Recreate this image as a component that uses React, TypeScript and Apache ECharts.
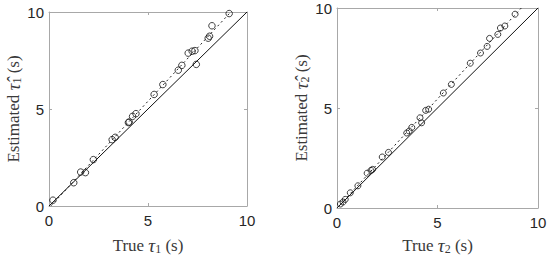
import React, { useEffect, useRef } from "react";
import * as echarts from "echarts";

// Left panel: tau1 (true, estimated)
const tau1True = [0.2, 1.25, 1.6, 1.84, 2.24, 3.19, 3.34, 4.01, 4.05, 4.22, 4.39, 5.31, 5.75, 6.53, 6.71, 7.03, 7.23, 7.37, 7.44, 8.04, 8.11, 8.23, 9.1];
const tau1Est = [0.3, 1.2, 1.75, 1.72, 2.39, 3.42, 3.54, 4.3, 4.33, 4.62, 4.76, 5.75, 6.26, 7.0, 7.25, 7.88, 7.98, 8.01, 7.3, 8.65, 8.75, 9.29, 9.92];
const fit1X = [0.1, 9.18];
const fit1Y = [0.01, 10.0];

// Right panel: tau2 (true, estimated)
const tau2True = [0.17, 0.3, 0.41, 0.66, 1.04, 1.5, 1.69, 1.77, 2.25, 2.56, 3.47, 3.59, 3.72, 4.13, 4.21, 4.41, 4.56, 5.29, 5.69, 6.63, 7.14, 7.47, 7.59, 8.0, 8.13, 8.35, 8.86];
const tau2Est = [0.2, 0.3, 0.43, 0.76, 1.11, 1.74, 1.88, 1.93, 2.55, 2.78, 3.75, 3.85, 4.03, 4.51, 4.26, 4.88, 4.94, 5.75, 6.18, 7.24, 7.75, 8.08, 8.48, 8.68, 9.0, 9.1, 9.69];
const fit2X = [0, 9.17];
const fit2Y = [0, 10.0];

const identityX = [0, 10];
const identityY = [0, 10];

const axisMin = 0;
const axisMax = 10;
const tickStep = 5;

const xNames = ["True {t|τ}{s|1} (s)", "True {t|τ}{s|2} (s)"];
const yNames = ["Estimated {t|τ̂}{s|1} (s)", "Estimated {t|τ̂}{s|2} (s)"];

const zip = (a: number[], b: number[]) => a.map((v, i) => [v, b[i]]);

const SERIF = "'Liberation Serif', 'DejaVu Serif', serif";
const SANS = "'Liberation Sans', Arial, sans-serif";
const AXIS_COLOR = "#a8a8a8";
const LABEL_COLOR = "#262626";
const TITLE_COLOR = "#3a3a3a";

const richName = {
  t: { fontFamily: SERIF, fontStyle: "italic", fontSize: 19, color: TITLE_COLOR },
  s: { fontFamily: SERIF, fontSize: 12, color: TITLE_COLOR, padding: [7, 0, 0, 0] },
};

function mainAxis(gridIndex: number, isX: boolean, name: string, nameGap: number) {
  return {
    type: "value",
    gridIndex,
    min: axisMin,
    max: axisMax,
    interval: tickStep,
    position: isX ? "bottom" : "left",
    name,
    nameLocation: "middle",
    nameGap,
    nameTextStyle: { fontFamily: SERIF, fontSize: 17, color: TITLE_COLOR, rich: richName },
    axisLine: { show: true, onZero: false, lineStyle: { color: AXIS_COLOR, width: 1 } },
    axisTick: { show: true, inside: true, length: 3, lineStyle: { color: AXIS_COLOR } },
    axisLabel: { show: true, fontFamily: SANS, fontSize: 15, color: LABEL_COLOR, margin: isX ? 7 : 5 },
    splitLine: { show: false },
  };
}

function borderAxis(gridIndex: number, isX: boolean) {
  return {
    type: "value",
    gridIndex,
    min: axisMin,
    max: axisMax,
    interval: tickStep,
    position: isX ? "top" : "right",
    axisLine: { show: true, onZero: false, lineStyle: { color: AXIS_COLOR, width: 1 } },
    axisTick: { show: true, inside: true, length: 3, lineStyle: { color: AXIS_COLOR } },
    axisLabel: { show: false },
    splitLine: { show: false },
  };
}

function panelSeries(xi: number, yi: number, tx: number[], ty: number[], fx: number[], fy: number[], size: number) {
  return [
    {
      type: "line",
      xAxisIndex: xi,
      yAxisIndex: yi,
      data: zip(identityX, identityY),
      showSymbol: false,
      symbol: "none",
      lineStyle: { color: "#111", width: 1 },
      z: 2,
    },
    {
      type: "line",
      xAxisIndex: xi,
      yAxisIndex: yi,
      data: zip(fx, fy),
      showSymbol: false,
      symbol: "none",
      lineStyle: { color: "#222", width: 1, type: [2, 3] },
      z: 2,
    },
    {
      type: "scatter",
      xAxisIndex: xi,
      yAxisIndex: yi,
      data: zip(tx, ty),
      symbol: "circle",
      symbolSize: size,
      itemStyle: { color: "rgba(255,255,255,0)", borderColor: "#111", borderWidth: 1 },
      z: 3,
    },
  ];
}

export default function App() {
  const ref = useRef<HTMLDivElement>(null);
  useEffect(() => {
    if (!ref.current) return;
    const chart = echarts.init(ref.current, undefined, { renderer: "svg" });
    chart.setOption({
      animation: false,
      backgroundColor: "#ffffff",
      grid: [
        { left: 49, top: 12, width: 198, height: 198 },
        { left: 337, top: 8, width: 201, height: 201 },
      ],
      xAxis: [
        mainAxis(0, true, xNames[0], 30),
        borderAxis(0, true),
        mainAxis(1, true, xNames[1], 28),
        borderAxis(1, true),
      ],
      yAxis: [
        mainAxis(0, false, yNames[0], 25),
        borderAxis(0, false),
        mainAxis(1, false, yNames[1], 26),
        borderAxis(1, false),
      ],
      series: [
        ...panelSeries(0, 0, tau1True, tau1Est, fit1X, fit1Y, 6.5),
        ...panelSeries(2, 2, tau2True, tau2Est, fit2X, fit2Y, 6),
      ],
    });
    return () => chart.dispose();
  }, []);
  return (
    <div
      ref={ref}
      style={{ position: "fixed", left: 0, top: 0, width: 550, height: 260, background: "#fff" }}
    />
  );
}
